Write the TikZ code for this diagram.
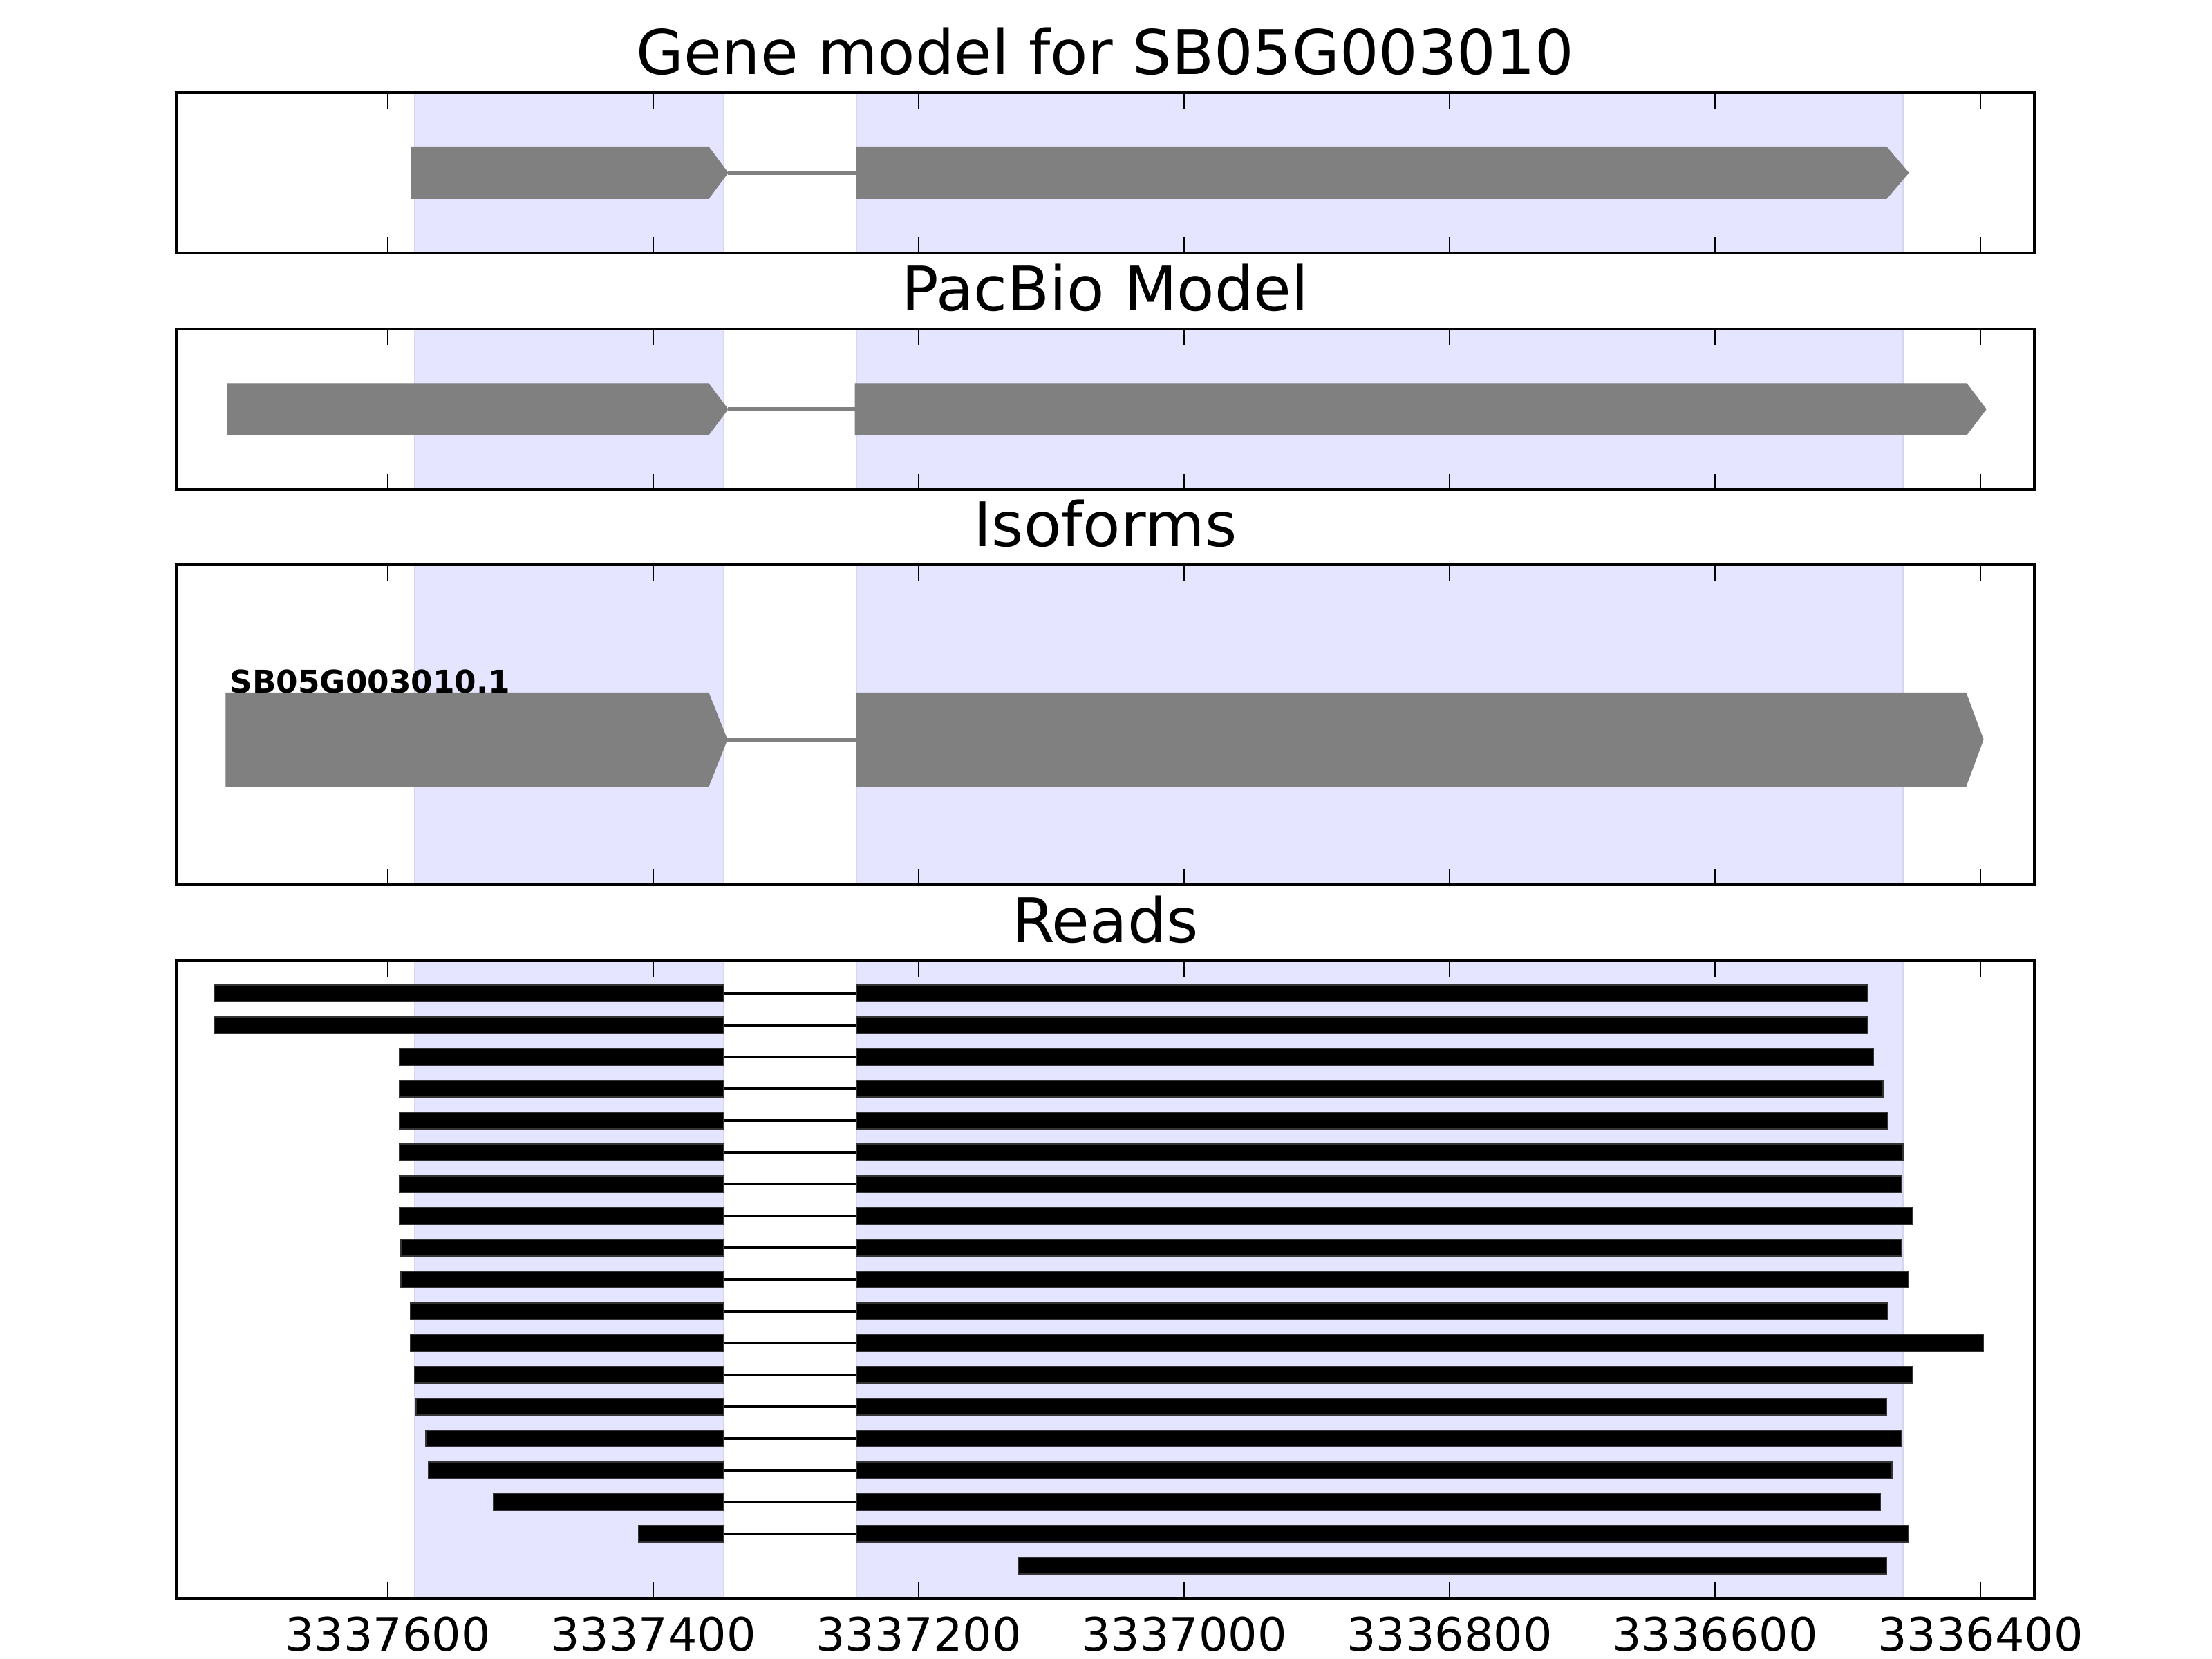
\documentclass[tikz,border=0pt]{standalone}
\usepackage{fontspec}
\setmainfont{DejaVu Sans}
\definecolor{exonshade}{RGB}{229,229,255}
\definecolor{shadeedge}{RGB}{214,214,236}
\definecolor{modelgray}{RGB}{128,128,128}

\begin{document}
\begin{tikzpicture}[
  panel/.style={line width=1.15pt},
  tickmark/.style={line width=0.7pt},
  exonspan/.style={fill=exonshade, draw=shadeedge, line width=0.4pt},
  model/.style={fill=modelgray, draw=modelgray, line width=0.3pt},
  intron/.style={draw=modelgray, line width=1.5pt},
  readbar/.style={fill=black, draw=black!80, line width=0.4pt},
  readgap/.style={draw=black, line width=1.2pt},
  paneltitle/.style={anchor=base, inner sep=0pt, font=\fontsize{25.3}{29}\selectfont},
  ticklabel/.style={anchor=base, inner sep=0pt, font=\fontsize{19}{22}\selectfont}
]
  \useasboundingbox (0,0) rectangle (32,24);

  % x in hundreds of bp, counted from 3337600 towards 3336400
  \begin{scope}[xshift=5.61cm, x=1.92cm]

  % exon shading, inner ticks and titles of the four panels
  \foreach \ytop/\ybot/\pid/\ptitle in {
    22.66/20.34/gene/{Gene model for SB05G003010},
    19.24/16.92/pacbio/{PacBio Model},
    15.83/11.20/iso/{Isoforms},
    10.10/0.88/reads/{Reads}
  } {
    \draw[exonspan] (0.203,\ybot) rectangle (2.531,\ytop);
    \draw[exonspan] (3.531,\ybot) rectangle (11.417,\ytop);
    \foreach \u in {0,2,...,12} {
      \draw[tickmark] (\u,\ybot) -- ++(0,0.23);
      \draw[tickmark] (\u,\ytop) -- ++(0,-0.23);
    }
    \node[paneltitle] (title\pid) at (5.406,\ytop+0.26) {\ptitle};
  }

  % gene models: centre / half height / start / head / tip
  \foreach \yc/\h/\xs/\xh/\xt in {
    21.50/0.375/0.177/2.417/2.562,
    21.50/0.375/3.531/11.292/11.458,
    18.08/0.370/-1.208/2.417/2.562,
    18.08/0.370/3.521/11.896/12.042,
    13.30/0.675/-1.219/2.417/2.557,
    13.30/0.675/3.531/11.891/12.021
  } {
    \draw[model] (\xs,\yc-\h) -- (\xh,\yc-\h) -- (\xt,\yc)
      -- (\xh,\yc+\h) -- (\xs,\yc+\h) -- cycle;
  }
  \foreach \yc/\xa/\xb in {21.50/2.562/3.531, 18.08/2.562/3.521, 13.30/2.557/3.531} {
    \draw[intron] (\xa,\yc) -- (\xb,\yc);
  }
  \node[anchor=base west, inner sep=0pt, font=\fontsize{12.9}{15}\selectfont\bfseries]
    (isolabel) at (-1.193,13.97) {SB05G003010.1};

  % reads: row / left end / right end
  \foreach \k/\l/\r in {
    1/-1.307/11.151, 2/-1.307/11.151, 3/0.089/11.193, 4/0.089/11.266,
    5/0.089/11.302, 6/0.089/11.417, 7/0.089/11.406, 8/0.089/11.490,
    9/0.099/11.406, 10/0.099/11.458, 11/0.172/11.302, 12/0.172/12.021,
    13/0.203/11.490, 14/0.214/11.292, 15/0.286/11.406, 16/0.307/11.333,
    17/0.797/11.245, 18/1.891/11.458
  } {
    \pgfmathsetmacro\y{9.63-0.46*(\k-1)}
    \draw[readbar] (\l,\y-0.12) rectangle (2.531,\y+0.12);
    \draw[readgap] (2.531,\y) -- (3.531,\y);
    \draw[readbar] (3.531,\y-0.12) rectangle (\r,\y+0.12);
  }
  \draw[readbar] (4.750,1.35-0.12) rectangle (11.292,1.35+0.12);

  % axis labels under the reads panel
  \foreach \u/\lab in {0/3337600, 2/3337400, 4/3337200, 6/3337000,
                       8/3336800, 10/3336600, 12/3336400} {
    \node[ticklabel] (tick\u) at (\u,0.11) {\lab};
  }

  % panel frames
  \foreach \ytop/\ybot in {22.66/20.34, 19.24/16.92, 15.83/11.20, 10.10/0.88} {
    \draw[panel] (-1.594,\ybot) rectangle (12.406,\ytop);
  }

  \end{scope}
\end{tikzpicture}
\end{document}
